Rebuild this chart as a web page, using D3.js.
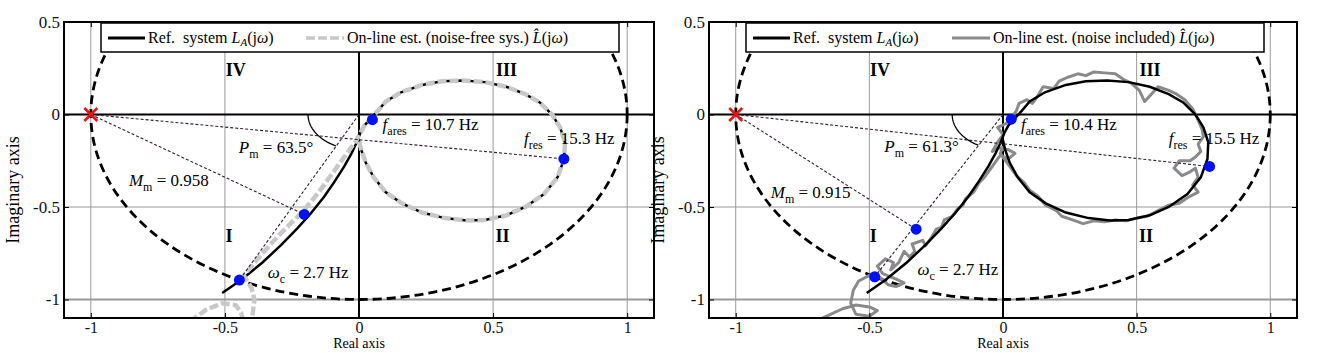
<!DOCTYPE html>
<html>
<head>
<meta charset="utf-8">
<script src="https://cdn.jsdelivr.net/npm/d3@7"></script>
<style>
  body { margin: 0; background: #fff; }
  text { font-family: "Liberation Serif", "Times New Roman", serif; }
</style>
</head>
<body>
<svg id="fig" width="1323" height="353"></svg>
<script>
// tick values and labels
var xTicks = [-1, -0.5, 0, 0.5, 1];
var xTickLabels = ["-1", "-0.5", "0", "0.5", "1"];
var yTicks = [0.5, 0, -0.5, -1];
var yTickLabels = ["0.5", "0", "-0.5", "-1"];

var quadrantNames = ["IV", "III", "I", "II"];
var quadrantRe = [-0.46, 0.55, -0.485, 0.535];
var quadrantIm = [0.21, 0.21, -0.69, -0.69];

// reference system L_A(jw), [Re, Im]
var refCurve = [
  [-0.51, -0.965], [-0.44, -0.895], [-0.36, -0.80], [-0.29, -0.705], [-0.23, -0.615],
  [-0.18, -0.535], [-0.13, -0.445], [-0.09, -0.36], [-0.055, -0.28], [-0.028, -0.21],
  [-0.01, -0.155], [0.005, -0.10], [0.02, -0.06], [0.045, -0.02], [0.07, 0.02],
  [0.10, 0.07], [0.157, 0.12], [0.235, 0.16], [0.31, 0.18], [0.39, 0.184],
  [0.47, 0.175], [0.549, 0.15], [0.62, 0.11], [0.674, 0.065], [0.72, 0.0],
  [0.75, -0.07], [0.768, -0.15], [0.765, -0.24], [0.74, -0.34], [0.69, -0.43],
  [0.62, -0.50], [0.549, -0.545], [0.47, -0.57], [0.40, -0.573], [0.32, -0.56],
  [0.235, -0.53], [0.16, -0.48], [0.10, -0.42], [0.055, -0.34], [0.025, -0.26],
  [0.008, -0.19], [0.0, -0.14]
];

// on-line estimate, noise-free system
var estClean = [
  [-0.63, -1.12], [-0.57, -1.055], [-0.51, -1.02], [-0.46, -1.03], [-0.44, -1.07],
  [-0.43, -1.12], [-0.40, -1.12], [-0.39, -1.0], [-0.40, -0.94], [-0.43, -0.87],
  [-0.36, -0.75], [-0.29, -0.64], [-0.21, -0.525], [-0.15, -0.42], [-0.10, -0.32],
  [-0.06, -0.24], [-0.03, -0.18], [-0.01, -0.14], [0.005, -0.10], [0.02, -0.06],
  [0.045, -0.02], [0.07, 0.02], [0.10, 0.07], [0.157, 0.12], [0.235, 0.16],
  [0.31, 0.18], [0.39, 0.184], [0.47, 0.175], [0.549, 0.15], [0.62, 0.11],
  [0.674, 0.065], [0.72, 0.0], [0.75, -0.07], [0.768, -0.15], [0.765, -0.24],
  [0.74, -0.34], [0.69, -0.43], [0.62, -0.50], [0.549, -0.545], [0.47, -0.57],
  [0.40, -0.573], [0.32, -0.56], [0.235, -0.53], [0.16, -0.48], [0.10, -0.42],
  [0.055, -0.34], [0.025, -0.26], [0.008, -0.19], [0.0, -0.14]
];

// on-line estimate, noise included
var estNoisy = [
  [-0.72, -1.13], [-0.66, -1.09], [-0.60, -1.05], [-0.55, -1.03], [-0.50, -1.04],
  [-0.47, -1.06], [-0.50, -1.09], [-0.55, -1.08], [-0.57, -1.02], [-0.56, -0.95],
  [-0.54, -0.90], [-0.50, -0.87], [-0.46, -0.88], [-0.43, -0.92], [-0.40, -0.93],
  [-0.37, -0.91], [-0.40, -0.89], [-0.45, -0.86], [-0.47, -0.82], [-0.44, -0.78],
  [-0.41, -0.80], [-0.42, -0.84], [-0.39, -0.80], [-0.37, -0.74], [-0.35, -0.77],
  [-0.33, -0.74], [-0.34, -0.70], [-0.30, -0.68], [-0.29, -0.71], [-0.27, -0.67],
  [-0.25, -0.62], [-0.23, -0.61], [-0.22, -0.57], [-0.19, -0.55], [-0.17, -0.51],
  [-0.15, -0.49], [-0.14, -0.455], [-0.11, -0.42], [-0.09, -0.37], [-0.07, -0.34],
  [-0.05, -0.30], [-0.03, -0.26], [-0.01, -0.22], [0.02, -0.24], [0.045, -0.21],
  [0.02, -0.19], [-0.02, -0.18], [-0.04, -0.20], [-0.02, -0.15], [0.0, -0.11],
  [-0.02, -0.07], [0.01, -0.05], [0.03, -0.02], [0.05, 0.02], [0.06, 0.06],
  [0.09, 0.08], [0.11, 0.06], [0.13, 0.10], [0.15, 0.15], [0.19, 0.14],
  [0.21, 0.18], [0.24, 0.20], [0.28, 0.22], [0.31, 0.21], [0.34, 0.23],
  [0.38, 0.225], [0.42, 0.22], [0.45, 0.19], [0.48, 0.17], [0.51, 0.13],
  [0.53, 0.07], [0.555, 0.11], [0.58, 0.15], [0.62, 0.13], [0.65, 0.11],
  [0.68, 0.08], [0.71, 0.03], [0.73, -0.03], [0.745, -0.08], [0.75, -0.12],
  [0.73, -0.16], [0.74, -0.20], [0.72, -0.23], [0.70, -0.25], [0.66, -0.25],
  [0.64, -0.29], [0.67, -0.33], [0.70, -0.31], [0.72, -0.29], [0.73, -0.34],
  [0.71, -0.38], [0.73, -0.42], [0.69, -0.45], [0.66, -0.48], [0.62, -0.49],
  [0.58, -0.52], [0.54, -0.55], [0.50, -0.56], [0.46, -0.575], [0.42, -0.57],
  [0.38, -0.58], [0.34, -0.575], [0.30, -0.59], [0.26, -0.57], [0.22, -0.55],
  [0.20, -0.52], [0.16, -0.49], [0.13, -0.44], [0.10, -0.41], [0.08, -0.37],
  [0.05, -0.33], [0.03, -0.29], [0.01, -0.25], [-0.01, -0.21], [0.0, -0.17]
];

// marked points: w_c, M_m, f_ares, f_res
var cleanMarks = [[-0.446, -0.895], [-0.204, -0.54], [0.05, -0.028], [0.764, -0.24]];
var noisyMarks = [[-0.48, -0.877], [-0.325, -0.62], [0.031, -0.025], [0.773, -0.281]];

var phaseMargin = [63.5, 61.3];
var modMargin = ["0.958", "0.915"];
var fAres = ["10.7", "10.4"];
var fRes = ["15.3", "15.5"];
var crossFreq = ["2.7", "2.7"];
var estLegend = ["On-line est. (noise-free sys.)\u00a0", "On-line est. (noise included)\u00a0"];

var svg = d3.select("#fig");
var top0 = 22, bot0 = 318;

function note(g, px, py, main, sub, rest) {
  var t = g.append("text").attr("x", px).attr("y", py).attr("font-size", 17);
  t.append("tspan").attr("font-style", "italic").text(main);
  t.append("tspan").attr("font-size", 12).attr("dy", 5).text(sub);
  t.append("tspan").attr("dy", -5).text(rest);
}

function panel(k, x0, x1, est, marks, noisy) {
  var g = svg.append("g");
  var x = d3.scaleLinear().domain([-1.1, 1.1]).range([x0, x1]);
  var y = d3.scaleLinear().domain([-1.1, 0.5]).range([bot0, top0]);
  var line = d3.line().x(function(d){ return x(d[0]); }).y(function(d){ return y(d[1]); });

  g.append("clipPath").attr("id", "clip" + k)
    .append("rect").attr("x", x0).attr("y", top0).attr("width", x1 - x0).attr("height", bot0 - top0);
  var p = g.append("g").attr("clip-path", "url(#clip" + k + ")");

  // grid
  p.selectAll(".gx").data(xTicks.filter(function(d){ return d !== 0; })).enter()
    .append("line")
    .attr("x1", function(d){ return x(d); }).attr("x2", function(d){ return x(d); })
    .attr("y1", top0).attr("y2", bot0)
    .attr("stroke", "#9a9a9a").attr("stroke-width", 1);
  p.selectAll(".gy").data(yTicks.filter(function(d){ return d < 0; })).enter()
    .append("line")
    .attr("x1", x0).attr("x2", x1)
    .attr("y1", function(d){ return y(d); }).attr("y2", function(d){ return y(d); })
    .attr("stroke", "#9a9a9a").attr("stroke-width", function(d){ return d === -1 ? 1.8 : 1; });

  // real and imaginary axes
  p.append("line").attr("x1", x(0)).attr("x2", x(0)).attr("y1", top0).attr("y2", bot0)
    .attr("stroke", "#000").attr("stroke-width", 2);
  p.append("line").attr("x1", x0).attr("x2", x1).attr("y1", y(0)).attr("y2", y(0))
    .attr("stroke", "#000").attr("stroke-width", 2);

  // unit circle
  p.append("ellipse").attr("cx", x(0)).attr("cy", y(0))
    .attr("rx", x(1) - x(0)).attr("ry", y(0) - y(1))
    .attr("fill", "none").attr("stroke", "#000").attr("stroke-width", 2.8)
    .attr("stroke-dasharray", "9,5");

  // curves
  if (noisy) {
    p.append("path").datum(est).attr("d", line).attr("fill", "none")
      .attr("stroke", "#8a8a8a").attr("stroke-width", 3).attr("stroke-linejoin", "round");
    p.append("path").datum(refCurve).attr("d", line).attr("fill", "none")
      .attr("stroke", "#000").attr("stroke-width", 2.5);
  } else {
    p.append("path").datum(refCurve).attr("d", line).attr("fill", "none")
      .attr("stroke", "#000").attr("stroke-width", 2.5);
    p.append("path").datum(est).attr("d", line).attr("fill", "none")
      .attr("stroke", "#c8c8c8").attr("stroke-width", 4.5).attr("stroke-dasharray", "9,3");
  }

  // margin construction lines
  var thin = [[[-1, 0], marks[3]], [[-1, 0], marks[1]], [[0, 0], marks[0]]];
  p.selectAll(".thin").data(thin).enter().append("path")
    .attr("d", line).attr("fill", "none")
    .attr("stroke", "#302030").attr("stroke-width", 1.1).attr("stroke-dasharray", "3,2");

  // phase margin arc
  var arcPts = d3.range(180, 180 + phaseMargin[k] + 0.5, 1).map(function(a){
    var r = a * Math.PI / 180;
    return [0.19 * Math.cos(r), 0.19 * Math.sin(r)];
  });
  p.append("path").datum(arcPts).attr("d", line).attr("fill", "none")
    .attr("stroke", "#000").attr("stroke-width", 1.3);

  // marked points
  p.selectAll(".dot").data(marks).enter().append("circle")
    .attr("cx", function(d){ return x(d[0]); }).attr("cy", function(d){ return y(d[1]); })
    .attr("r", 5.5).attr("fill", "#0010ff");

  // critical point
  var cx = x(-1), cy = y(0), s = 6.5;
  p.append("path")
    .attr("d", "M" + (cx - s) + "," + (cy - s) + "L" + (cx + s) + "," + (cy + s) +
               "M" + (cx - s) + "," + (cy + s) + "L" + (cx + s) + "," + (cy - s))
    .attr("stroke", "#ee1111").attr("stroke-width", 2.6);

  // quadrant labels
  g.selectAll(".quad").data(quadrantNames).enter().append("text")
    .attr("x", function(d, i){ return x(quadrantRe[i]); })
    .attr("y", function(d, i){ return y(quadrantIm[i]); })
    .attr("text-anchor", "middle").attr("font-size", 18).attr("font-weight", "bold")
    .text(function(d){ return d; });

  // annotations
  var at = k === 0
    ? { pm: [-0.448, -0.21], mm: [-0.858, -0.384], wc: [-0.34, -0.886], fa: [0.088, -0.086], fr: [0.615, -0.157] }
    : { pm: [-0.444, -0.20], mm: [-0.869, -0.45], wc: [-0.32, -0.87], fa: [0.067, -0.086], fr: [0.62, -0.157] };
  note(g, x(at.pm[0]), y(at.pm[1]), "P", "m", " = " + phaseMargin[k] + "\u00b0");
  note(g, x(at.mm[0]), y(at.mm[1]), "M", "m", " = " + modMargin[k]);
  note(g, x(at.wc[0]), y(at.wc[1]), "\u03c9", "c", " = " + crossFreq[k] + " Hz");
  note(g, x(at.fa[0]), y(at.fa[1]), "f", "ares", " = " + fAres[k] + " Hz");
  note(g, x(at.fr[0]), y(at.fr[1]), "f", "res", " = " + fRes[k] + " Hz");

  // box
  g.append("rect").attr("x", x0).attr("y", top0).attr("width", x1 - x0).attr("height", bot0 - top0)
    .attr("fill", "none").attr("stroke", "#000").attr("stroke-width", 2);

  // axes (labelled bottom/left, bare ticks top/right)
  var ax = g.append("g").attr("transform", "translate(0," + bot0 + ")")
    .call(d3.axisBottom(x).tickValues(xTicks).tickFormat(function(d, i){ return xTickLabels[i]; })
      .tickSizeInner(-5).tickSizeOuter(0).tickPadding(4));
  var ay = g.append("g").attr("transform", "translate(" + x0 + ",0)")
    .call(d3.axisLeft(y).tickValues(yTicks).tickFormat(function(d, i){ return yTickLabels[i]; })
      .tickSizeInner(-5).tickSizeOuter(0).tickPadding(4));
  var axT = g.append("g").attr("transform", "translate(0," + top0 + ")")
    .call(d3.axisTop(x).tickValues(xTicks).tickFormat("").tickSizeInner(-5).tickSizeOuter(0));
  var ayR = g.append("g").attr("transform", "translate(" + x1 + ",0)")
    .call(d3.axisRight(y).tickValues(yTicks).tickFormat("").tickSizeInner(-5).tickSizeOuter(0));
  [ax, ay, axT, ayR].forEach(function(a){
    a.select(".domain").remove();
    a.attr("font-family", null).attr("font-size", null);
    a.selectAll("text").attr("font-size", 17).attr("fill", "#111");
    a.selectAll("line").attr("stroke", "#000");
  });
  ax.selectAll("text").attr("font-size", 16);

  g.append("text").attr("x", x(0)).attr("y", 348).attr("text-anchor", "middle")
    .attr("font-size", 14).text("Real axis");
  g.append("text").attr("transform", "translate(" + (x0 - 45) + "," + ((top0 + bot0) / 2 + 20) + ") rotate(-90)")
    .attr("text-anchor", "middle").attr("font-size", 18).text("Imaginary axis");

  // legend
  var lg = g.append("g").attr("transform", "translate(" + (x0 + 37) + "," + (top0 + 1) + ")");
  lg.append("rect").attr("width", 518).attr("height", 29)
    .attr("fill", "#fff").attr("stroke", "#000").attr("stroke-width", 1.5);
  lg.append("line").attr("x1", 7).attr("x2", 44).attr("y1", 15).attr("y2", 15)
    .attr("stroke", "#000").attr("stroke-width", 3);
  var t1 = lg.append("text").attr("x", 47).attr("y", 20).attr("font-size", 16);
  t1.append("tspan").text("Ref.\u00a0\u00a0system ");
  t1.append("tspan").attr("font-style", "italic").text("L");
  t1.append("tspan").attr("font-style", "italic").attr("font-size", 11).attr("dy", 3).text("A");
  t1.append("tspan").attr("dy", -3).text("(j");
  t1.append("tspan").attr("font-style", "italic").text("\u03c9");
  t1.append("tspan").text(")");

  var l2x = k === 0 ? 205 : 206;
  var ln2 = lg.append("line").attr("x1", l2x).attr("x2", l2x + 38).attr("y1", 15).attr("y2", 15);
  if (noisy) ln2.attr("stroke", "#8a8a8a").attr("stroke-width", 3);
  else ln2.attr("stroke", "#c8c8c8").attr("stroke-width", 3.5).attr("stroke-dasharray", "9,3");
  var t2 = lg.append("text").attr("x", l2x + 41).attr("y", 20).attr("font-size", 16);
  t2.append("tspan").text(estLegend[k]);
  t2.append("tspan").attr("font-style", "italic").text("L\u0302");
  t2.append("tspan").text("(j");
  t2.append("tspan").attr("font-style", "italic").text("\u03c9");
  t2.append("tspan").text(")");
}

panel(0, 64, 654, estClean, cleanMarks, false);
panel(1, 709, 1297, estNoisy, noisyMarks, true);
</script>
</body>
</html>
